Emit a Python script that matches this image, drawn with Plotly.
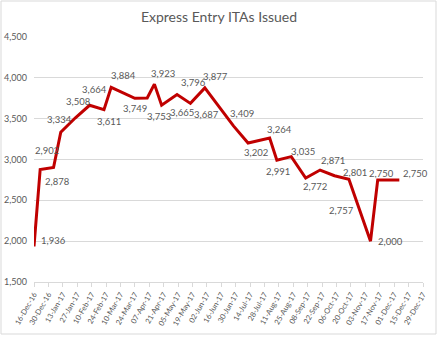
import plotly.graph_objects as go
from datetime import date, timedelta

# ---- data ----
draw_dates = ["2016-12-16", "2016-12-22", "2017-01-04", "2017-01-11", "2017-01-25",
              "2017-02-08", "2017-02-22", "2017-03-01", "2017-03-24", "2017-04-05",
              "2017-04-12", "2017-04-19", "2017-05-04", "2017-05-17", "2017-05-31",
              "2017-06-28", "2017-07-12", "2017-08-02", "2017-08-09", "2017-08-23",
              "2017-09-06", "2017-09-20", "2017-10-04", "2017-10-18", "2017-11-08",
              "2017-11-15", "2017-12-06"]
itas = [1936, 2878, 2902, 3334, 3508, 3664, 3611, 3884, 3749, 3753, 3923, 3665,
        3796, 3687, 3877, 3409, 3202, 3264, 2991, 3035, 2772, 2871, 2801, 2757,
        2000, 2750, 2750]

# label offsets in pixels (dx, dy-down) -- styling only
label_offsets = [(19, -6), (17, 12), (-7, -17), (-1, -13), (3, -17), (5, -16), (5, 12),
                 (12, -12), (0, 10), (12, 18), (9, -11), (20, 7), (16, -12), (16, 11),
                 (11, -11), (8, -13), (8, 9), (10, -8), (1, 11), (12, -5), (9, 8),
                 (13, -10), (20, -3), (-7, 31), (20, 0), (4, -6), (16, -6)]

# axis ticks every two weeks
start = date(2016, 12, 16)
tick_dates = [start + timedelta(days=14 * i) for i in range(28)]
tick_vals = [d.isoformat() for d in tick_dates]
tick_text = [d.strftime("%d-%b-%y") for d in tick_dates]

y_ticks = [1500, 2000, 2500, 3000, 3500, 4000, 4500]

FONT = "Lato, 'Open Sans', sans-serif"
GREY = "#595959"

fig = go.Figure()
fig.add_trace(go.Scatter(
    x=draw_dates, y=itas, mode="lines",
    line=dict(color="#C00000", width=3),
    hoverinfo="skip", showlegend=False, cliponaxis=False,
))

for xd, v, (dx, dy) in zip(draw_dates, itas, label_offsets):
    fig.add_annotation(x=xd, y=v, xref="x", yref="y", text=f"{v:,}",
                       showarrow=False, xshift=dx, yshift=-dy,
                       font=dict(family=FONT, size=9.5, color=GREY))

W, H = 438, 338
ml, mr, mt, mb = 34, 15, 37, 56
pw, ph = W - ml - mr, H - mt - mb
fig.add_shape(type="rect", xref="paper", yref="paper",
              x0=(1 - ml) / pw, x1=(436 - ml) / pw,
              y0=(H - 334 - mb) / ph, y1=(H - 1 - mb) / ph,
              line=dict(color="#D9D9D9", width=1), layer="below")

fig.update_layout(
    width=W, height=H,
    margin=dict(l=ml, r=mr, t=mt, b=mb, autoexpand=False),
    paper_bgcolor="white", plot_bgcolor="white",
    title=dict(text="Express Entry ITAs Issued", x=0.5, xanchor="center",
               y=1 - 17 / H, yanchor="middle",
               font=dict(family=FONT, size=14, color=GREY)),
    xaxis=dict(type="date", range=[tick_vals[0], tick_vals[-1]], automargin=False,
               tickmode="array", tickvals=tick_vals, ticktext=tick_text,
               tickangle=-60, tickfont=dict(family=FONT, size=7.5, color=GREY),
               showgrid=False, showline=True, linecolor="#D9D9D9", linewidth=1,
               ticks="outside", ticklen=4, tickcolor="#D9D9D9", zeroline=False),
    yaxis=dict(range=[1500, 4500], tickmode="array", tickvals=y_ticks, automargin=False,
               ticktext=[f"{v:,}" for v in y_ticks],
               tickfont=dict(family=FONT, size=9, color=GREY),
               showgrid=True, gridcolor="#D9D9D9", gridwidth=1,
               zeroline=False, showline=False, ticks="", ticklabelstandoff=6),
)

fig.write_html("out.html")
